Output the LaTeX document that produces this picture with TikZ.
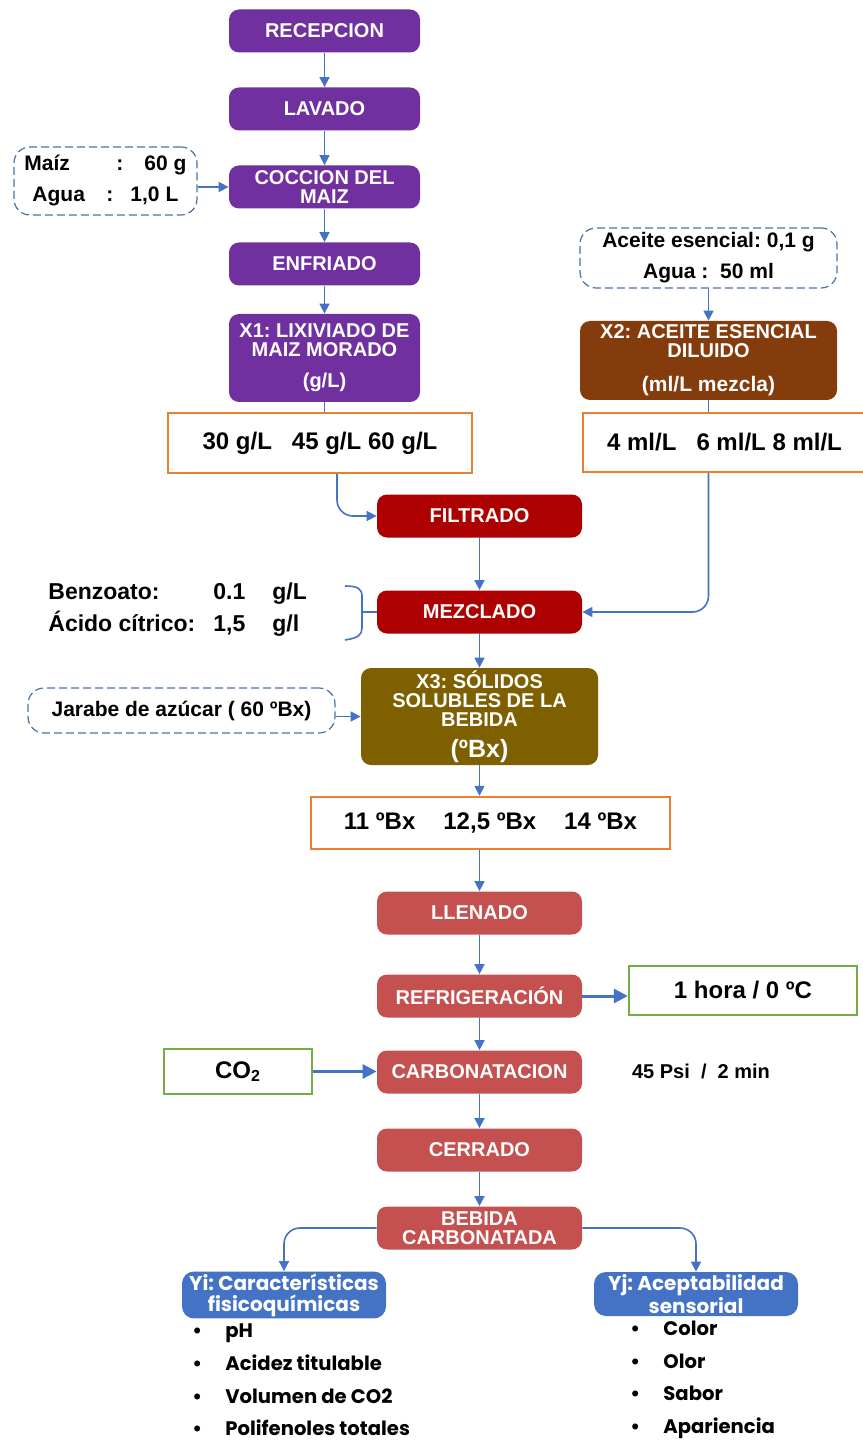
\documentclass[tikz,border=0pt]{standalone}
\usepackage{fontspec}
\setmainfont{Liberation Sans}
\newfontfamily\gothicfont{Poppins}
\usetikzlibrary{arrows.meta,positioning}
\frenchspacing
% colours of the flow sheet
\definecolor{flowMorado}{HTML}{7030A0}
\definecolor{flowCafe}{HTML}{843C0C}
\definecolor{flowRojo}{HTML}{AD0000}
\definecolor{flowOliva}{HTML}{7F6000}
\definecolor{flowRosa}{HTML}{C55050}
\definecolor{flowAzul}{HTML}{4472C4}
\definecolor{flowNaranja}{HTML}{ED7D31}
\definecolor{flowVerde}{HTML}{70AD47}
\definecolor{flowGuion}{HTML}{4A72A8}
\tikzset{
  stepbox/.style={rounded corners=5pt, minimum height=21.5pt, inner sep=1pt,
    align=center, text=white, font=\bfseries\fontsize{10}{9.5}\selectfont},
  stepMorado/.style={stepbox, fill=flowMorado, minimum width=95.5pt},
  stepRojo/.style={stepbox, fill=flowRojo, minimum width=102.5pt},
  stepRosa/.style={stepbox, fill=flowRosa, minimum width=102.5pt},
  inputbox/.style={draw=flowGuion, dashed, dash pattern=on 4pt off 2pt, line width=0.6pt,
    rounded corners=8pt, align=center, inner sep=1pt, font=\bfseries\fontsize{10.5}{15.5}\selectfont},
  valuebox/.style={draw=flowNaranja, line width=1.2pt, inner sep=1pt,
    font=\bfseries\fontsize{12}{12}\selectfont},
  condbox/.style={draw=flowVerde, line width=1.2pt, inner sep=1pt,
    font=\bfseries\fontsize{12}{12}\selectfont},
  resultbox/.style={rounded corners=6pt, fill=flowAzul, minimum width=102pt, minimum height=22pt,
    inner sep=1pt, align=center, text=white, font=\gothicfont\bfseries\fontsize{10}{10.5}\selectfont},
  bulletlist/.style={align=left, inner sep=0pt, font=\gothicfont\bfseries\fontsize{9.8}{16.3}\selectfont},
  flowLine/.style={draw=flowAzul, line width=0.8pt},
  flowArrow/.style={flowLine, -{Triangle[length=5pt,width=5pt]}},
  flowArrowThick/.style={draw=flowAzul, line width=1.5pt, -{Triangle[length=7pt,width=7pt]}}
}
\begin{document}
\begin{tikzpicture}[x=0.5pt,y=-0.5pt]
\useasboundingbox (0,0) rectangle (862,1443);
% preparation of the purple corn extract
\node[stepMorado] (recepcion) at (324.5,31) {RECEPCION};
\node[stepMorado] (lavado) at (324.5,109) {LAVADO};
\node[stepMorado] (coccion) at (324.5,187) {COCCION DEL\\MAIZ};
\node[stepMorado] (enfriado) at (324.5,264) {ENFRIADO};
\node[stepMorado, minimum height=44pt] (lixiviado) at (324.5,358) {X1: LIXIVIADO DE\\MAIZ MORADO\\[6pt](g/L)};
\node[inputbox, minimum width=91.5pt, minimum height=34pt, align=left] (maiz) at (105.5,181)
  {\makebox[46pt][l]{Maíz}\makebox[14pt][l]{:}60 g\\\hspace{4pt}\makebox[37pt][l]{Agua}\makebox[12pt][l]{:}1,0 L};
\node[valuebox, minimum width=152pt, minimum height=30pt] (dosis1) at (320,443) {30 g/L\hspace{10pt}45 g/L 60 g/L};
% essential oil branch
\node[inputbox, minimum width=128.5pt, minimum height=30pt] (aceite) at (708.5,258) {Aceite esencial: 0,1 g\\Agua :\ \ 50 ml};
\node[stepbox, fill=flowCafe, minimum width=128.5pt, minimum height=39.5pt] (diluido) at (708.5,360.5)
  {X2: ACEITE ESENCIAL\\DILUIDO\\[7.5pt]{\fontsize{10.5}{10.5}\selectfont (ml/L mezcla)}};
\node[valuebox, minimum width=141.5pt, minimum height=29.5pt] (dosis2) at (724.5,442.5) {4 ml/L\hspace{10pt}6 ml/L 8 ml/L};
% mixing
\node[stepRojo] (filtrado) at (479.5,516) {FILTRADO};
\node[stepRojo] (mezclado) at (479.5,612) {MEZCLADO};
\node[align=left, inner sep=0pt, font=\bfseries\fontsize{11.5}{16}\selectfont] (aditivos) at (48,610) [anchor=west]
  {\makebox[82.5pt][l]{Benzoato:}\makebox[29.5pt][l]{0.1}g/L\\\makebox[82.5pt][l]{Ácido cítrico:}\makebox[29.5pt][l]{1,5}g/l};
\coordinate (llave) at (362,612);
\node[stepbox, fill=flowOliva, minimum width=118.5pt, minimum height=48.5pt] (solidos) at (479.5,716.5)
  {X3: SÓLIDOS\\SOLUBLES DE LA\\BEBIDA\\[6pt]{\fontsize{12.5}{12.5}\selectfont (ºBx)}};
\node[inputbox, minimum width=153.5pt, minimum height=22.5pt] (jarabe) at (181.5,710.5) {Jarabe de azúcar ( 60 ºBx)};
\node[valuebox, minimum width=179.5pt, minimum height=26pt] (dosis3) at (490.5,823) {11 ºBx\hspace{14pt}12,5 ºBx\hspace{14pt}14 ºBx};
% bottling
\node[stepRosa] (llenado) at (479.5,913) {LLENADO};
\node[stepRosa] (refrigeracion) at (479.5,996) {REFRIGERACIÓN};
\node[condbox, minimum width=114pt, minimum height=24.5pt] (hora) at (743,990.5) {1 hora / 0 ºC};
\node[stepRosa] (carbonatacion) at (479.5,1072) {CARBONATACION};
\node[condbox, minimum width=74pt, minimum height=22.5pt] (gas) at (238,1071.5) {CO\textsubscript{2}};
\node[font=\bfseries\fontsize{10}{10}\selectfont, inner sep=0pt] (presion) at (701,1071) {45 Psi\ \ /\ \ 2 min};
\node[stepRosa] (cerrado) at (479.5,1150) {CERRADO};
\node[stepRosa] (bebida) at (479.5,1228) {BEBIDA\\CARBONATADA};
% responses
\node[resultbox] (fisico) at (284,1295) {Yi: Características\\fisicoquímicas};
\node[resultbox] (sensorial) at (696,1294) {Yj: Aceptabilidad\\sensorial};
\node[bulletlist, anchor=west] (listaFisico) at (192,1380)
  {\makebox[16.5pt][l]{\textbullet}pH\\\makebox[16.5pt][l]{\textbullet}Acidez titulable\\
   \makebox[16.5pt][l]{\textbullet}Volumen de CO2\\\makebox[16.5pt][l]{\textbullet}Polifenoles totales};
\node[bulletlist, anchor=west] (listaSensorial) at (630,1380)
  {\makebox[16.5pt][l]{\textbullet}Color\\\makebox[16.5pt][l]{\textbullet}Olor\\
   \makebox[16.5pt][l]{\textbullet}Sabor\\\makebox[16.5pt][l]{\textbullet}Apariencia};
% connectors
\draw[flowArrow] (recepcion) -- (lavado);
\draw[flowArrow] (lavado) -- (coccion);
\draw[flowArrow] (coccion) -- (enfriado);
\draw[flowArrow] (enfriado) -- (lixiviado);
\draw[flowArrow] (maiz.east |- coccion.west) -- (coccion.west);
\draw[flowLine] (lixiviado.south) -- (lixiviado.south |- dosis1.north);
\draw[flowArrow, rounded corners=8pt] ([xshift=8.5pt]dosis1.south) |- (filtrado.west);
\draw[flowArrow] (aceite) -- (diluido);
\draw[flowLine] (diluido.south) -- (diluido.south |- dosis2.north);
\draw[flowArrow, rounded corners=8pt] ([xshift=-8pt]dosis2.south) |- (mezclado.east);
\draw[flowArrow] (filtrado) -- (mezclado);
\draw[flowLine] (345,586) .. controls (358,586) and (362,589) .. (362,596) -- (362,628)
  .. controls (362,635) and (358,638) .. (345,640);
\draw[flowLine] (llave) -- (mezclado.west);
\draw[flowArrow] (mezclado) -- (solidos);
\draw[flowArrow] (jarabe.east |- solidos.west) -- (solidos.west);
\draw[flowArrow] (solidos.south) -- (solidos.south |- dosis3.north);
\draw[flowArrow] (llenado.north |- dosis3.south) -- (llenado.north);
\draw[flowArrow] (llenado) -- (refrigeracion);
\draw[flowArrowThick] (refrigeracion.east) -- (refrigeracion.east -| hora.west);
\draw[flowArrow] (refrigeracion) -- (carbonatacion);
\draw[flowArrowThick] (gas.east) -- (gas.east -| carbonatacion.west);
\draw[flowArrow] (carbonatacion) -- (cerrado);
\draw[flowArrow] (cerrado) -- (bebida);
\draw[flowArrow, rounded corners=8pt] (bebida.west) -| (fisico.north);
\draw[flowArrow, rounded corners=8pt] (bebida.east) -| (sensorial.north);
\end{tikzpicture}
\end{document}
